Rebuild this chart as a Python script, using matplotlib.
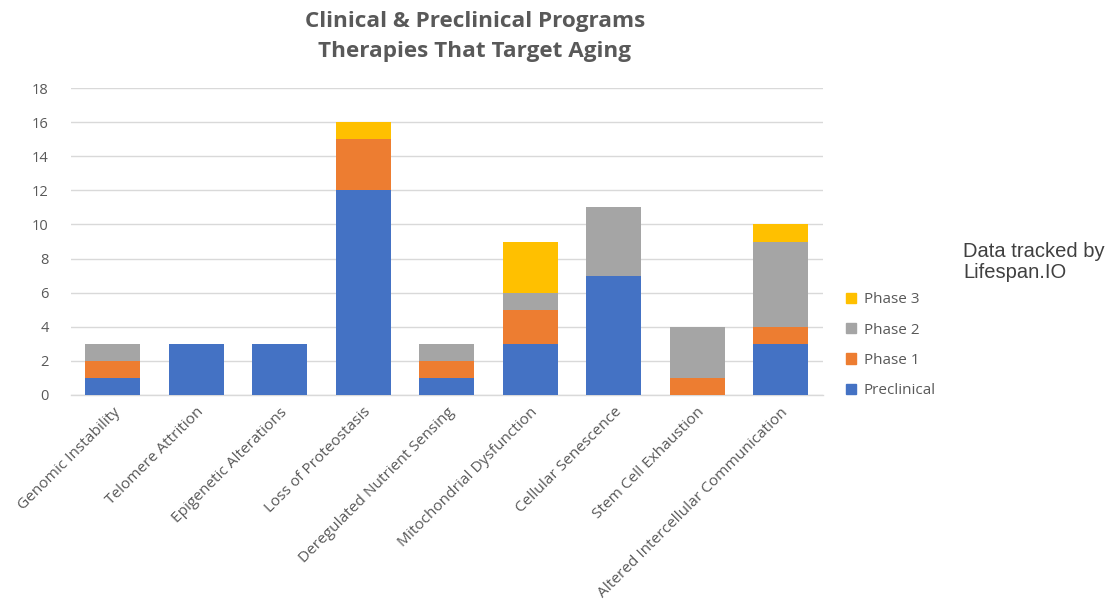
import matplotlib
matplotlib.use("Agg")
import matplotlib.pyplot as plt
from matplotlib.patches import Patch
import numpy as np

categories = [
    "Genomic Instability",
    "Telomere Attrition",
    "Epigenetic Alterations",
    "Loss of Proteostasis",
    "Deregulated Nutrient Sensing",
    "Mitochondrial Dysfunction",
    "Cellular Senescence",
    "Stem Cell Exhaustion",
    "Altered Intercellular Communication",
]
preclinical = [1, 3, 3, 12, 1, 3, 7, 0, 3]
phase1 = [1, 0, 0, 3, 1, 2, 0, 1, 1]
phase2 = [1, 0, 0, 0, 1, 1, 4, 3, 5]
phase3 = [0, 0, 0, 1, 0, 3, 0, 0, 1]

series_names = ["Preclinical", "Phase 1", "Phase 2", "Phase 3"]
series_colors = ["#4472C4", "#ED7D31", "#A5A5A5", "#FFC000"]
yticks = [0, 2, 4, 6, 8, 10, 12, 14, 16, 18]

plt.rcParams["font.family"] = ["Open Sans", "DejaVu Sans"]
text_color = "#595959"

fig = plt.figure(figsize=(11.07, 6.03), dpi=100)
ax = fig.add_axes([0.064, 0.345, 0.679, 0.509])

x = np.arange(len(categories))
bottom = np.zeros(len(categories))
for vals, name, col in zip([preclinical, phase1, phase2, phase3], series_names, series_colors):
    v = np.array(vals, dtype=float)
    ax.bar(x, v, width=0.66, bottom=bottom, color=col, label=name, zorder=3)
    bottom += v

ax.set_xlim(-0.5, len(categories) - 0.5)
ax.set_ylim(0, 18)
ax.set_yticks(yticks)
ax.set_yticklabels([str(t) for t in yticks], fontsize=10.5, color=text_color)
ax.yaxis.grid(True, color="#D9D9D9", linewidth=1, zorder=0)
ax.set_axisbelow(True)
for s in ["top", "right", "left"]:
    ax.spines[s].set_visible(False)
ax.spines["bottom"].set_color("#D9D9D9")
ax.spines["bottom"].set_linewidth(1)
ax.tick_params(axis="y", length=0, pad=16)
ax.tick_params(axis="x", length=0, pad=7)
ax.set_xticks(x)
ax.set_xticklabels(categories, rotation=45, ha="right", rotation_mode="anchor",
                   fontsize=11.1, color=text_color)

fig.text(0.429, 0.982, "Clinical & Preclinical Programs\nTherapies That Target Aging",
         ha="center", va="top", fontsize=16.2, fontweight="bold", color=text_color,
         linespacing=1.6)

handles = [Patch(color=c, label=n) for n, c in zip(series_names, series_colors)][::-1]
fig.legend(handles=handles, loc="upper left", bbox_to_anchor=(0.752, 0.538),
           frameon=False, fontsize=11, handlelength=0.65, handleheight=0.65,
           handletextpad=0.5, labelspacing=1.0, labelcolor=text_color)

fig.text(0.87, 0.566, "Data tracked by\nLifespan.IO", ha="left", va="center",
         fontsize=14.5, color="#404040", family=["Liberation Sans", "DejaVu Sans"],
         linespacing=1.15)

fig.savefig("out.png", dpi=100)
